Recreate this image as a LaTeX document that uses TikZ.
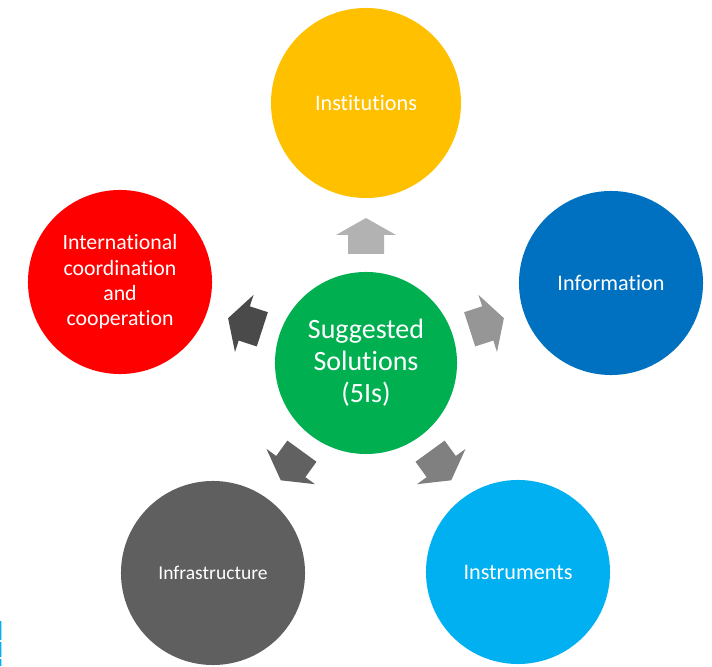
\documentclass[tikz,border=0pt]{standalone}
\usepackage{fontspec}
\setmainfont{Carlito}[Ligatures=NoCommon]
\definecolor{vang}{HTML}{FFC000}
\definecolor{xanhdam}{HTML}{0070C0}
\definecolor{xanhnhat}{HTML}{00B0F0}
\definecolor{xam}{HTML}{5F5F5F}
\definecolor{do}{HTML}{FF0000}
\definecolor{xanhla}{HTML}{00B050}
\begin{document}
\begin{tikzpicture}[x=0.025cm, y=0.025cm, font=\fontsize{15.8}{18}\selectfont, line join=round]
			\tikzset{bubble/.style={circle, inner sep=0pt, minimum size=4.6cm, text=white, align=center},
				block-arrow/.pic={
					\fill (0,-18)--(19,-18)--(19,-30)--(36,0)--(19,30)--(19,18)--(0,18)--cycle;
			}}
			\useasboundingbox (0,0) rectangle (712,666);
			\node[bubble, fill=xanhla, minimum size=4.55cm, font=\fontsize{19.9}{22.8}\selectfont] (solutions) at (366,303) {Suggested\\Solutions\\(5Is)};
			\foreach \a/\c in {90/black!30, 18/black!41, -54/black!50, -126/black!62, 162/black!71}
			\path (solutions.center) ++(\a:109) pic[rotate=\a, color=\c]{block-arrow};
			\node[bubble, fill=vang, minimum size=4.75cm] (institutions) at (366,563) {Institutions};
			\node[bubble, fill=xanhdam] (information) at (611,383) {Information};
			\node[bubble, fill=xanhnhat] (instruments) at (518,94) {Instruments};
			\node[bubble, fill=xam, font=\fontsize{13.9}{16}\selectfont] (infrastructure) at (213,93) {Infrastructure};
			\node[bubble, fill=do, font=\fontsize{15.5}{18.1}\selectfont] (international) at (120,384) {International\\coordination\\and\\cooperation};
			\fill[xanhnhat] (0,0) rectangle (1.5,7) (0,9) rectangle (1.5,24) (0,26) rectangle (1.5,45);
		\end{tikzpicture}
\end{document}
